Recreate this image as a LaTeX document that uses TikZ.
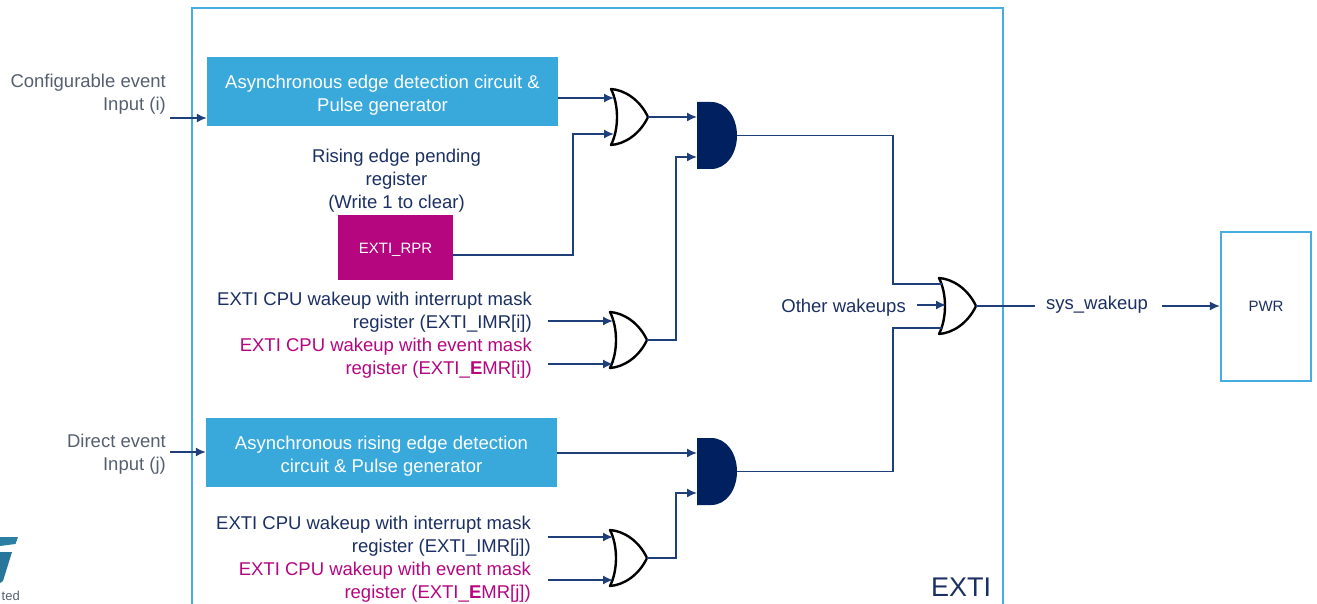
\documentclass[tikz,border=0pt]{standalone}
\usepackage{fontspec}
\setmainfont{Liberation Sans}
\usetikzlibrary{arrows.meta}
\definecolor{navy}{HTML}{1B2F62}
\definecolor{wire}{HTML}{1F3F7A}
\definecolor{andfill}{HTML}{002060}
\definecolor{skyfill}{HTML}{39A9DC}
\definecolor{skyline}{HTML}{45ADE0}
\definecolor{magent}{HTML}{B5067F}
\definecolor{greytxt}{HTML}{555F70}
\newcommand{\dn}[1]{\raisebox{-3pt}[0.9em][0.3em]{#1}}
\tikzset{
  x=1pt,y=-1pt,
  wiring/.style={draw=wire,line width=1.6pt},
  arr/.style={wiring,-{Latex[length=10pt,width=9pt]}},
  orshape/.style={draw=black,fill=white,line width=2.4pt,line join=round},
  andshape/.style={fill=andfill,draw=none},
  skybox/.style={fill=skyfill,draw=none,text=white,align=center,font=\fontsize{18.5}{23}\selectfont,inner sep=0pt},
  lab/.style={align=right,anchor=east,inner sep=0pt,font=\fontsize{18.5}{23}\selectfont},
  navylab/.style={lab,text=navy},
  maglab/.style={lab,text=magent},
  greylab/.style={lab,text=greytxt},
  frame/.style={draw=skyline,line width=2.2pt,fill=none},
}
% OR gate: name, left x, top y (37 wide, 56 high)
\newcommand{\orgate}[3]{%
  \path[orshape] (#2,#3) .. controls (#2+14,#3+1) and (#2+29,#3+11) .. (#2+37,#3+28)
     .. controls (#2+29,#3+45) and (#2+14,#3+55) .. (#2,#3+56)
     .. controls (#2+8,#3+40) and (#2+8,#3+16) .. (#2,#3) -- cycle;
  \coordinate (#1in1) at (#2+3,#3+6);
  \coordinate (#1in2) at (#2+3,#3+50);
  \coordinate (#1out) at (#2+37,#3+28);
}
% AND gate: name, left x, top y (40 wide, 67 high)
\newcommand{\andgate}[3]{%
  \path[andshape] (#2,#3) -- (#2+14,#3) .. controls (#2+30,#3) and (#2+40,#3+16) .. (#2+40,#3+33.5)
     .. controls (#2+40,#3+51) and (#2+30,#3+67) .. (#2+14,#3+67) -- (#2,#3+67) -- cycle;
  \coordinate (#1in1) at (#2,#3+15);
  \coordinate (#1in2) at (#2,#3+55);
  \coordinate (#1out) at (#2+40,#3+33.5);
}
\begin{document}
\begin{tikzpicture}
\useasboundingbox (0,0) rectangle (1317,604);
\begin{scope}
\clip (0,0) rectangle (1317,604);
\draw[frame] (192,8) rectangle (1003,640);

% logo fragment
\path[fill=skyfill!75!black] (0,537) -- (18,537) -- (15.5,544) -- (0,546) -- cycle;
\path[fill=skyfill!70!black] (0,552) -- (12,552) -- (3,581) -- (0,583) -- cycle;
\node[inner sep=0pt,anchor=east,text=greytxt,font=\fontsize{13}{15}\selectfont] (logotxt) at (20,596) {ted};

% blocks
\node[skybox,minimum width=351pt,minimum height=69pt] (edge1) at (382.5,91.5) {\dn{Asynchronous edge detection circuit \&}\\\dn{Pulse generator}};
\node[skybox,minimum width=351pt,minimum height=69pt] (edge2) at (381.5,452.5) {\dn{Asynchronous rising edge detection}\\\dn{circuit \& Pulse generator}};
\node[fill=magent,text=white,inner sep=0pt,minimum width=115pt,minimum height=65pt,font=\fontsize{15}{18}\selectfont] (rpr) at (395.5,247.5) {\raisebox{-1.5pt}[0.9em][0.3em]{EXTI\_RPR}};
\node[frame,fill=white,inner sep=0pt,minimum width=90pt,minimum height=149pt,text=navy,font=\fontsize{15}{18}\selectfont] (pwr) at (1266,306.5) {PWR};

% labels
\node[greylab] (cfg) at (166,94.5) {Configurable event\\Input (i)};
\node[greylab] (direct) at (166,454.5) {Direct event\\Input (j)};
\node[lab,align=center,anchor=center,text=navy] (rising) at (396.5,181) {Rising edge pending\\register\\(Write 1 to clear)};
\node[navylab] (imri) at (532,312.5) {EXTI CPU wakeup with interrupt mask\\register (EXTI\_IMR[i])};
\node[maglab] (emri) at (532,358.5) {EXTI CPU wakeup with event mask\\register (EXTI\_\textbf{E}MR[i])};
\node[navylab] (imrj) at (531,536.5) {EXTI CPU wakeup with interrupt mask\\register (EXTI\_IMR[j])};
\node[maglab] (emrj) at (531,582.5) {EXTI CPU wakeup with event mask\\register (EXTI\_\textbf{E}MR[j])};
\node[navylab] (other) at (906,307.5) {Other wakeups};
\node[lab,anchor=center,text=navy] (sys) at (1097,305) {sys\_wakeup};
\node[inner sep=0pt,text=navy,font=\fontsize{27}{30}\selectfont] (extilab) at (961,587) {EXTI};

% gates
\orgate{oa}{611}{89}
\orgate{ob}{610}{312}
\orgate{oc}{610}{530}
\orgate{od}{939}{278}
\andgate{aa}{697}{102}
\andgate{ab}{697}{438}

% free connector ends
\coordinate (cfgend) at (170,118);
\coordinate (directend) at (170,452);
\coordinate (imriend) at (548,321);
\coordinate (emriend) at (548,364);
\coordinate (imrjend) at (548,537);
\coordinate (emrjend) at (548,580);
\coordinate (otherend) at (917,305);
\coordinate (sysend) at (1162,306);

% connectors
\draw[arr] (cfgend) -- (edge1.west |- cfgend);
\draw[arr] (directend) -- (edge2.west |- directend);
\draw[arr] (edge1.east |- 0,98) -- (oain1 |- 0,98);
\draw[arr] (rpr.east |- 0,255) -- (573,255) -- (573,134) -- (oain1 |- 0,134);
\draw[arr] (oaout) -- (aain1);
\draw[arr] (imriend) -- (obin1 |- imriend);
\draw[arr] (emriend) -- (obin2 |- emriend);
\draw[arr] (obout) -- (676,340) -- (676,157) -- (aain2);
\draw[arr] (edge2.east |- abin1) -- (abin1);
\draw[arr] (imrjend) -- (ocin1 |- imrjend);
\draw[arr] (emrjend) -- (ocin2 |- emrjend);
\draw[arr] (ocout) -- (676,558) -- (676,493) -- (abin2);
\draw[wiring] (aaout) -- (893,135.5) -- (893,284) -- (odin1);
\draw[wiring] (about) -- (893,471.5) -- (893,328) -- (odin2);
\draw[arr] (otherend) -- (946,305);
\draw[wiring] (odout) -- (1035,306);
\draw[arr] (sysend) -- (pwr.west |- sysend);
\end{scope}
\end{tikzpicture}
\end{document}
